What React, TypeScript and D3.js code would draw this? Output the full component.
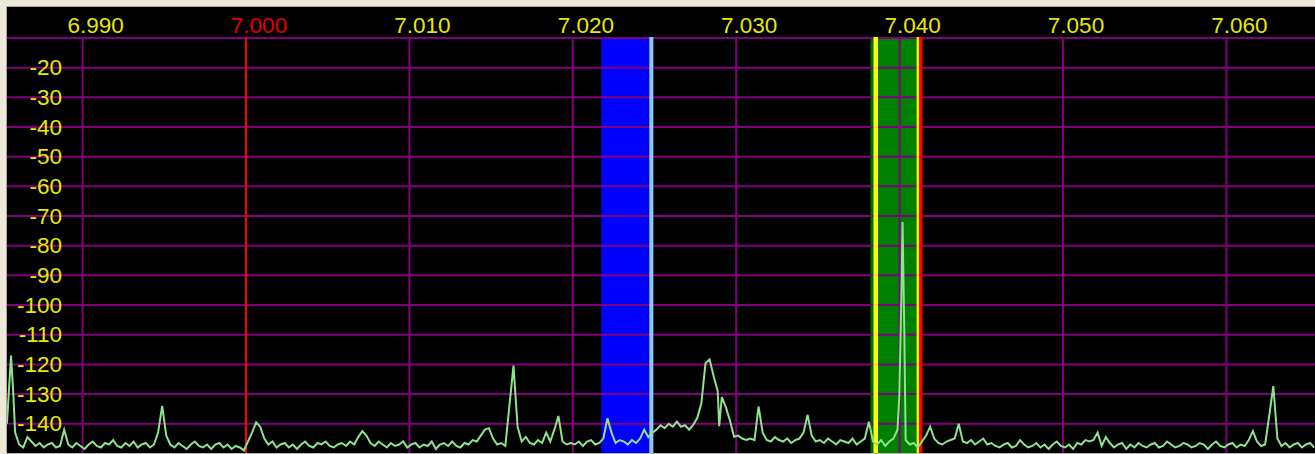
import React from 'react';
import * as d3 from 'd3';

// ---- data ----
const startMHz = 6.98537;
const stepMHz = 0.00025;
const levels: number[] = [
  -140, -117, -143, -147, -148, -144.5, -146, -147.5, -146.5, -148,
  -147, -146.5, -148, -147.5, -142, -147, -148, -146.5, -147.5, -148.5,
  -147, -146, -147.5, -148, -146.5, -147, -145.5, -147.5, -148, -146.5,
  -147.5, -146, -148, -147, -146.5, -148, -147, -143, -134, -144,
  -147, -148, -146.5, -147.5, -148.5, -147, -146, -147.5, -148, -147,
  -148.5, -147, -146.5, -148, -147, -148.5, -147.5, -148, -149, -146,
  -143, -139.5, -141, -145, -147, -146, -148, -147, -146.5, -148,
  -147, -148.5, -147, -146, -147.5, -148, -146.5, -147, -146, -147.5,
  -148, -147, -146.5, -147.5, -146, -147, -144.5, -142.5, -144, -146.5,
  -147.5, -146, -147, -148, -146.5, -147.5, -147, -146, -148, -147,
  -146.5, -148, -147, -147.5, -146, -148.5, -147, -146.5, -147.5, -146,
  -147.5, -148, -146.5, -147, -145.5, -146, -144, -142, -141.5, -145,
  -147, -146.5, -147.5, -134, -120.4, -141, -146, -144.4, -146.5, -147,
  -145.5, -146.5, -143, -146, -142, -137.4, -146, -147, -146.5, -147,
  -146, -147.5, -146, -145.5, -147, -146.5, -145, -138.2, -143, -146.5,
  -145.5, -146, -147, -145.5, -146.5, -145, -142, -144.5, -143, -142,
  -140.5, -141.5, -140, -141, -139.3, -141, -140.5, -142, -140.4, -138,
  -133, -119.6, -118.3, -124, -129, -131, -134.5, -139, -144.4, -144,
  -145, -145.5, -145, -145.5, -134.2, -143, -145.5, -146, -144.5, -145.5,
  -146, -145, -146.5, -145.5, -145, -143, -137, -144, -146, -145.5,
  -146.5, -145, -146, -147, -145.5, -146, -146.5, -145, -147, -146,
  -145, -139.3, -146, -147, -145.5, -147.5, -146, -145, -142, -94,
  -145.5, -147, -146.5, -148, -146, -144, -141, -145, -146.5, -147,
  -146, -145.5, -145, -140, -146, -146.5, -145.5, -147, -146, -145,
  -147, -146.5, -147.5, -148, -147, -146.5, -148, -147.5, -145.5, -147,
  -148, -147.5, -146.5, -148, -147, -148.5, -147, -146, -147.5, -148,
  -147, -148.5, -146.5, -147, -145.5, -146, -145.5, -143, -147.5, -144.5,
  -146.5, -148, -147, -146.5, -148.5, -147, -148, -146.5, -147.5, -148,
  -147, -146.5, -148, -147.5, -146, -147, -148, -147.5, -146.5, -147,
  -148, -147.5, -146.5, -147, -148.5, -147, -146, -147.5, -148, -147,
  -146.5, -148, -147, -147.5, -145.5, -142.5, -146, -147.5, -147, -137.4,
  -127.3, -145, -147.5, -146.5, -148, -147, -146.5, -148, -147, -146.5, -148,
];
const extraPoints: [number, number][] = [
  [6.98576, -130],
  [7.02896, -140.8],
  [7.03998, -131],
  [7.04018, -72],
  [7.04029, -109.5],
];
const freqTicks = [6.99, 7.0, 7.01, 7.02, 7.03, 7.04, 7.05, 7.06];
const freqLabels = ['6.990', '7.000', '7.010', '7.020', '7.030', '7.040', '7.050', '7.060'];
const dbTicks = [-10, -20, -30, -40, -50, -60, -70, -80, -90, -100, -110, -120, -130, -140];
const dbLabels = ['', '-20', '-30', '-40', '-50', '-60', '-70', '-80', '-90', '-100', '-110', '-120', '-130', '-140'];
const vfoMarker = 7.0;
const rxBand = [7.02174, 7.02468];
const rxEdge = [7.02468, 7.02493];
const txBand = [7.03823, 7.04119];
const txDarkEdge = [7.03823, 7.03839];
const txLeftLine = 7.03854;
const txRightLine = 7.04112;
const txCarrier = 7.04129;

export default function App() {
  const W = 1315;
  const H = 454;
  const left = 7, top = 7, bottom = 453;
  const x = d3.scaleLinear().domain([6.99, 7.06]).range([82.6, 1226.4]);
  const y = d3.scaleLinear().domain([-10, -150]).range([38, 453.4]);

  const pts: [number, number][] = levels
    .map((v, i) => [startMHz + i * stepMHz, v] as [number, number])
    .concat(extraPoints)
    .sort((a, b) => a[0] - b[0]);
  const line = d3.line<[number, number]>().x(d => x(d[0])).y(d => y(d[1])).curve(d3.curveLinear);

  const plotTop = y(-10);
  const font = "'Liberation Sans', Arial, sans-serif";

  return (
    <div style={{ position: 'absolute', left: 0, top: 0 }}>
      <svg width={W} height={H} style={{ display: 'block' }}>
        <defs>
          <clipPath id="plotclip">
            <rect x={left} y={top} width={W - left} height={bottom - top} />
          </clipPath>
        </defs>
        <rect x={0} y={0} width={W} height={H} fill="#ECE9D8" />
        <rect x={left} y={top} width={W - left} height={bottom - top} fill="#000" />
        <line x1={left - 0.5} y1={top - 1} x2={left - 0.5} y2={bottom} stroke="#ACA899" />
        <line x1={left - 1} y1={top - 0.5} x2={W} y2={top - 0.5} stroke="#ACA899" />
        <line x1={left} y1={bottom + 0.5} x2={W} y2={bottom + 0.5} stroke="#B8B8B8" />

        <g clipPath="url(#plotclip)">
          {/* RX passband */}
          <rect x={x(rxBand[0])} y={plotTop} width={x(rxBand[1]) - x(rxBand[0])} height={bottom - plotTop} fill="#0000FF" />
          {/* TX passband */}
          <rect x={x(txBand[0])} y={plotTop} width={x(txBand[1]) - x(txBand[0])} height={bottom - plotTop} fill="#008000" />
          <rect x={x(txDarkEdge[0])} y={plotTop} width={x(txDarkEdge[1]) - x(txDarkEdge[0])} height={bottom - plotTop} fill="#006A00" />

          {/* horizontal grid */}
          {dbTicks.map(d => (
            <line key={'h' + d} x1={left} x2={W} y1={y(d)} y2={y(d)} stroke="#800080" strokeWidth={2} />
          ))}
          {/* vertical grid */}
          {freqTicks.map(f => (
            <line key={'v' + f} x1={x(f)} x2={x(f)} y1={plotTop - 1} y2={bottom}
              stroke={f === vfoMarker ? '#FF0000' : '#800080'} strokeWidth={2} />
          ))}

          <rect x={x(rxEdge[0])} y={plotTop - 1} width={x(rxEdge[1]) - x(rxEdge[0])} height={bottom - plotTop + 1} fill="#8CC8FF" />
          <line x1={x(txLeftLine)} x2={x(txLeftLine)} y1={plotTop - 1} y2={bottom} stroke="#FFFF00" strokeWidth={4.5} />
          <line x1={x(txRightLine)} x2={x(txRightLine)} y1={plotTop - 1} y2={bottom} stroke="#FFFF00" strokeWidth={2.5} />
          <line x1={x(txCarrier)} x2={x(txCarrier)} y1={plotTop - 1} y2={bottom} stroke="#FF0000" strokeWidth={3.5} />

          {/* spectrum */}
          <path d={line(pts) || ''} fill="none" stroke="#8EE38E" strokeWidth={2} strokeLinejoin="miter" />
        </g>

        {/* frequency labels */}
        {freqTicks.map((f, i) => (
          <text key={'fl' + f} x={x(f) + 13} y={33} textAnchor="middle" fontFamily={font} fontSize={22.5}
            fill={f === vfoMarker ? '#E00000' : '#E8E800'}>{freqLabels[i]}</text>
        ))}
        {/* dB labels */}
        {dbTicks.map((d, i) => (
          dbLabels[i] ? (
            <text key={'dl' + d} x={62} y={y(d) + 7.5} textAnchor="end" fontFamily={font} fontSize={22.5} fill="#E8E800">{dbLabels[i]}</text>
          ) : null
        ))}
      </svg>
    </div>
  );
}
